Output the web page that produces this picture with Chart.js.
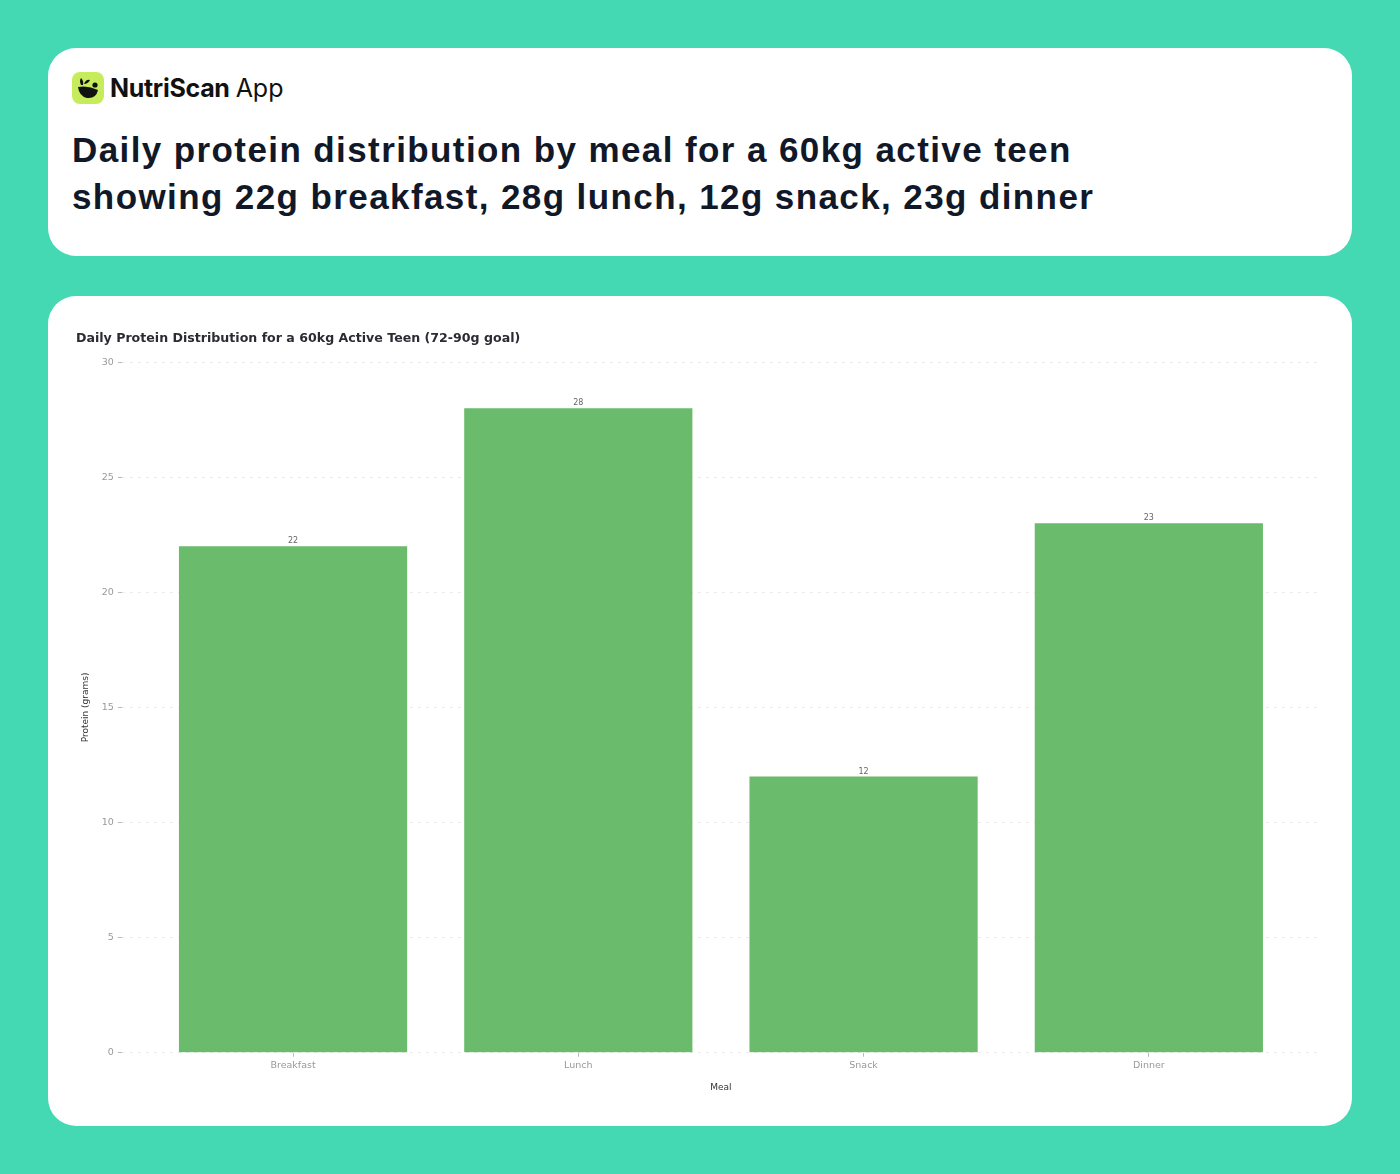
<!DOCTYPE html>
<html>
<head>
<meta charset="utf-8">
<script src="https://cdn.jsdelivr.net/npm/chart.js@4/dist/chart.umd.min.js"></script>
<style>
  html, body { margin: 0; padding: 0; }
  body {
    width: 1400px; height: 1174px;
    background: #44d9b2;
    position: relative;
    font-family: Inter, "Liberation Sans", sans-serif;
  }
  .card {
    position: absolute;
    left: 48px; width: 1304px;
    background: #ffffff;
    border-radius: 28px;
  }
  #head { top: 48px; height: 208px; }
  #body { top: 296px; height: 830px; }
  .brand {
    position: absolute; left: 24px; top: 24px;
    display: flex; align-items: center;
    font-size: 25px; color: #111111;
  }
  .brand svg { margin-right: 6px; }
  .brand b { font-weight: 700; letter-spacing: -0.3px; }
  .brand span { font-weight: 400; margin-left: 6px; }
  h1 {
    position: absolute; left: 24px; top: 78px; margin: 0;
    font-family: "Liberation Sans", Arial, sans-serif;
    font-size: 35px; line-height: 47px; font-weight: 700;
    letter-spacing: 1.4px;
    color: #111827;
  }
  #wrap {
    position: absolute; left: 24px; top: 24px;
    width: 1262px; height: 790px;
  }
</style>
</head>
<body>
<div class="card" id="head">
  <div class="brand">
    <svg width="32" height="32" viewBox="0 0 32 32">
      <rect x="0" y="0" width="32" height="32" rx="8" fill="#c6ec5c"/>
      <path d="M6 15 Q16 13 26 18 Q24 27 15 26 Q7 24 6 15 Z" fill="#111"/>
      <path d="M9 13 Q7 9 9 6 Q12 9 11 13 Z" fill="#111"/>
      <path d="M12 12 Q14 7 18 8 Q16 12 12 12 Z" fill="#111"/>
      <circle cx="23" cy="13" r="2.6" fill="#111"/>
    </svg>
    <b>NutriScan</b><span>App</span>
  </div>
  <h1>Daily protein distribution by meal for a 60kg active teen<br>showing 22g breakfast, 28g lunch, 12g snack, 23g dinner</h1>
</div>
<div class="card" id="body">
  <div id="wrap"><canvas id="chart"></canvas></div>
</div>
<script>
const meals = ['Breakfast', 'Lunch', 'Snack', 'Dinner'];
const proteinGrams = [22, 28, 12, 23];
const yTicks = [0, 5, 10, 15, 20, 25, 30];

const chartTitle = 'Daily Protein Distribution for a 60kg Active Teen (72-90g goal)';
const barColor = '#6abb6c';

// bars sit on a linear x axis so the outer gap can be wider than a plain category axis
const barPoints = meals.map((m, i) => ({ x: i, y: proteinGrams[i] }));

// small value labels above each bar
const valueLabels = {
  id: 'valueLabels',
  afterDatasetsDraw(chart) {
    const { ctx } = chart;
    const meta = chart.getDatasetMeta(0);
    ctx.save();
    ctx.font = '8px "DejaVu Sans"';
    ctx.fillStyle = '#666666';
    ctx.textAlign = 'center';
    ctx.textBaseline = 'bottom';
    meta.data.forEach((bar, i) => {
      ctx.fillText(String(proteinGrams[i]), bar.x, bar.y - 1);
    });
    ctx.restore();
  }
};

Chart.defaults.font.family = '"DejaVu Sans", sans-serif';

new Chart(document.getElementById('chart'), {
  type: 'bar',
  data: {
    datasets: [{
      data: barPoints,
      backgroundColor: barColor,
      borderWidth: 0,
      barPercentage: 0.8,
      categoryPercentage: 1.0
    }]
  },
  plugins: [valueLabels],
  options: {
    responsive: true,
    maintainAspectRatio: false,
    animation: false,
    layout: { padding: { left: 4, right: 14, top: 3, bottom: 13 } },
    plugins: {
      legend: { display: false },
      tooltip: { enabled: false },
      title: {
        display: true,
        align: 'start',
        text: chartTitle,
        color: '#2b2b33',
        font: { size: 12.6, weight: 'bold' },
        padding: { top: 8, bottom: 16 }
      }
    },
    scales: {
      x: {
        type: 'linear',
        offset: false,
        min: -0.6, max: meals.length - 0.4,
        afterBuildTicks: (axis) => { axis.ticks = meals.map((m, i) => ({ value: i })); },
        grid: { display: true, offset: false, drawOnChartArea: false, drawTicks: true, tickLength: 4, color: '#bbbbbb' },
        border: { display: false },
        ticks: {
          color: '#999999', font: { size: 9.5 }, padding: 3,
          callback: (v) => meals[v]
        },
        title: { display: true, text: 'Meal', color: '#333333', font: { size: 9 }, padding: { top: 8 } }
      },
      y: {
        min: 0, max: 30,
        afterBuildTicks: (axis) => { axis.ticks = yTicks.map(v => ({ value: v })); },
        grid: { color: '#ebebeb', tickColor: '#bbbbbb', tickLength: 4, lineWidth: 1 },
        border: { display: false, dash: [3, 5] },
        ticks: { color: '#999999', font: { size: 9.5 }, padding: 4 },
        title: { display: true, text: 'Protein (grams)', color: '#333333', font: { size: 9 }, padding: { bottom: 7 } }
      }
    }
  }
});
</script>
</body>
</html>
